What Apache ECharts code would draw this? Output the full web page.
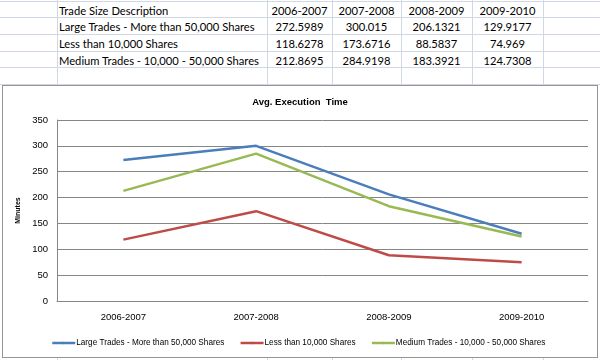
<!DOCTYPE html>
<html>
<head>
<meta charset="utf-8">
<script src="https://cdn.jsdelivr.net/npm/echarts@6/dist/echarts.min.js"></script>
<style>
html,body{margin:0;padding:0;background:#fff;width:600px;height:360px;overflow:hidden;}
#sheet{position:absolute;left:0;top:0;width:600px;height:360px;}
.vl{position:absolute;top:0;width:1px;height:360px;background:#d0d7e5;}
.hl{position:absolute;left:0;height:1px;width:600px;background:#d0d7e5;}
.cell{position:absolute;height:17px;line-height:17px;font-family:Lato,"Open Sans",sans-serif;font-size:11.2px;color:#000;white-space:nowrap;}
#chart{position:absolute;left:2px;top:85px;width:594px;height:271px;border:1px solid #959595;background:#fff;}
</style>
</head>
<body>
<div id="sheet"></div>
<div id="chart"></div>
<script>
const categories = ["2006-2007", "2007-2008", "2008-2009", "2009-2010"];
const headerLabel = "Trade Size Description";
const seriesNames = ["Large Trades - More than 50,000 Shares", "Less than 10,000 Shares", "Medium Trades - 10,000 - 50,000 Shares"];
const largeTrades = [272.5989, 300.015, 206.1321, 129.9177];
const smallTrades = [118.6278, 173.6716, 88.5837, 74.969];
const mediumTrades = [212.8695, 284.9198, 183.3921, 124.7308];
const yTitle = "Minutes";
const chartTitle = "Avg. Execution  Time";

// spreadsheet grid
const sheet = document.getElementById('sheet');
const colX = [57, 267, 332, 401, 472, 543];
const rowY = [1, 17, 34, 51, 67, 84];
colX.forEach(x => { const d = document.createElement('div'); d.className = 'vl'; d.style.left = x + 'px'; sheet.appendChild(d); });
rowY.forEach(y => { const d = document.createElement('div'); d.className = 'hl'; d.style.top = y + 'px'; sheet.appendChild(d); });
function cell(text, x0, x1, row, align) {
  const d = document.createElement('div');
  d.className = 'cell';
  d.style.left = (x0 + 2) + 'px';
  d.style.width = (x1 - x0 - 4) + 'px';
  d.style.top = (rowY[row] + 1) + 'px';
  d.style.textAlign = align;
  d.textContent = text;
  sheet.appendChild(d);
}
cell(headerLabel, colX[0], colX[1], 0, 'left');
categories.forEach((c, i) => cell(c, colX[i + 1], colX[i + 2], 0, 'center'));
const allSeries = [largeTrades, smallTrades, mediumTrades];
allSeries.forEach((vals, r) => {
  cell(seriesNames[r], colX[0], colX[1], r + 1, 'left');
  vals.forEach((v, i) => cell(String(v), colX[i + 1], colX[i + 2], r + 1, 'center'));
});

const chart = echarts.init(document.getElementById('chart'));
const font = '"Liberation Sans",Arial,sans-serif';
const colors = ['#4a7ebb', '#be4b48', '#98b954'];
chart.setOption({
  animation: false,
  textStyle: { fontFamily: font },
  title: {
    text: chartTitle, left: 'center', top: 6,
    textStyle: { fontFamily: font, fontSize: 9.5, fontWeight: 'bold', color: '#000' }
  },
  grid: { left: 54, right: 9, top: 34, bottom: 56 },
  legend: {
    bottom: 5, left: 43, itemWidth: 23, itemHeight: 3, itemGap: 15,
    lineStyle: { width: 2.5 },
    textStyle: { fontFamily: font, fontSize: 8.2, color: '#000', padding: [0, 0, 0, -4] },
    data: seriesNames
  },
  xAxis: {
    type: 'category', data: categories, boundaryGap: true,
    axisLine: { lineStyle: { color: '#868686' } },
    axisTick: { show: false },
    axisLabel: { fontFamily: font, fontSize: 9.5, color: '#000', margin: 11 }
  },
  yAxis: {
    type: 'value', min: 0, max: 350, interval: 50,
    name: yTitle, nameLocation: 'middle', nameRotate: 90, nameGap: 34,
    nameTextStyle: { fontFamily: font, fontSize: 7, fontWeight: 'bold', color: '#000' },
    axisLine: { show: true, lineStyle: { color: '#868686' } },
    axisTick: { show: false },
    splitLine: { lineStyle: { color: '#868686' } },
    axisLabel: { fontFamily: font, fontSize: 9.5, color: '#000', margin: 9 }
  },
  series: allSeries.map((vals, i) => ({
    name: seriesNames[i], type: 'line', data: vals, symbol: 'none',
    lineStyle: { width: 2.5, color: colors[i] }, itemStyle: { color: colors[i] }
  }))
});
</script>
</body>
</html>
